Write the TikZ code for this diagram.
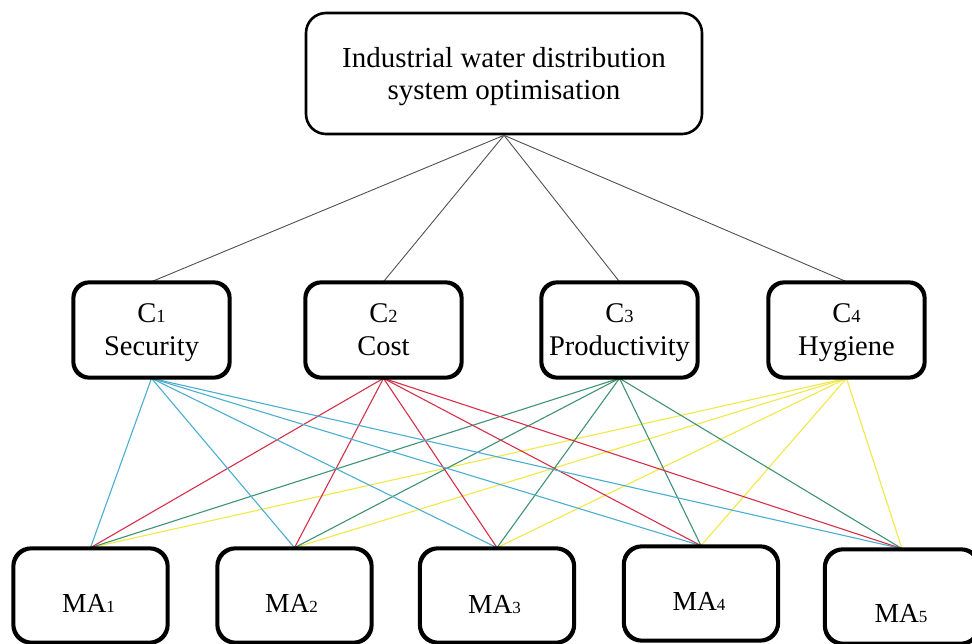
\documentclass[tikz,border=0pt]{standalone}
\usepackage{fontspec}
\setmainfont{Liberation Serif}
\definecolor{cblue}{HTML}{4AAED0}
\definecolor{cred}{HTML}{D5304A}
\definecolor{cgreen}{HTML}{3F9272}
\definecolor{cyellow}{HTML}{F2E845}
\definecolor{cgray}{HTML}{505050}
\newcommand\cidx[1]{{\fontsize{18.5}{18.5}\selectfont #1}}
\newcommand\maidx[1]{{\fontsize{17}{17}\selectfont #1}}
\tikzset{
  box/.style={draw=black, line width=2.6pt, rounded corners=16pt, fill=white, align=center, inner sep=0pt},
  topbox/.style={box, minimum width=396pt, minimum height=121pt, rounded corners=20pt, text depth=0pt, font=\fontsize{29}{32}\selectfont},
  critbox/.style={box, minimum width=155pt, minimum height=94pt, text depth=0pt, font=\fontsize{28.5}{33}\selectfont},
  altbox/.style={box, minimum width=153pt, minimum height=93pt, rounded corners=18pt},
  alttext/.style={anchor=base, inner sep=0pt, font=\fontsize{27.5}{30}\selectfont},
  toplink/.style={draw=cgray, line width=0.9pt},
  link/.style={line width=1.1pt},
}
\begin{document}
\begin{tikzpicture}[x=1pt,y=-1pt]
\useasboundingbox (0,0) rectangle (972,644);
% nodes
\node[topbox] (goal) at (504,73.5) {Industrial water distribution\\system optimisation};
\node[critbox] (c1) at (151.5,330) {C\cidx{1}\\Security};
\node[critbox] (c2) at (383.5,330) {C\cidx{2}\\Cost};
\node[critbox] (c3) at (619.5,330) {C\cidx{3}\\Productivity};
\node[critbox] (c4) at (846.5,330) {C\cidx{4}\\Hygiene};
\node[altbox] (m1) at (90.5,595.5) {};
\node[altbox] (m2) at (294.5,595.5) {};
\node[altbox] (m3) at (497,595.5) {};
\node[altbox] (m4) at (701,593.5) {};
\node[altbox] (m5) at (902,596.5) {};
% connectors from goal
\foreach \c in {c1,c2,c3,c4} \draw[toplink] (goal.south) -- (\c.north);
% connectors from criteria to alternatives
\foreach \m in {m1,m2,m3,m4,m5} {
  \draw[link, cyellow] (c4.south) -- (\m.north);
  \draw[link, cgreen] (c3.south) -- (\m.north);
  \draw[link, cred] (c2.south) -- (\m.north);
  \draw[link, cblue] (c1.south) -- (\m.north);
}
% box borders on top of connectors
\foreach \n in {c1,c2,c3,c4} \draw[line width=2.6pt, rounded corners=16pt] (\n.south west) rectangle (\n.north east);
\foreach \n in {m1,m2,m3,m4,m5} \draw[line width=2.6pt, rounded corners=18pt] (\n.south west) rectangle (\n.north east);
% alternative labels
\node[alttext] (t1) at (88.5,612) {MA\maidx{1}};
\node[alttext] (t2) at (291.5,612) {MA\maidx{2}};
\node[alttext] (t3) at (494.5,613) {MA\maidx{3}};
\node[alttext] (t4) at (699,610) {MA\maidx{4}};
\node[alttext] (t5) at (901,622) {MA\maidx{5}};
\end{tikzpicture}
\end{document}
